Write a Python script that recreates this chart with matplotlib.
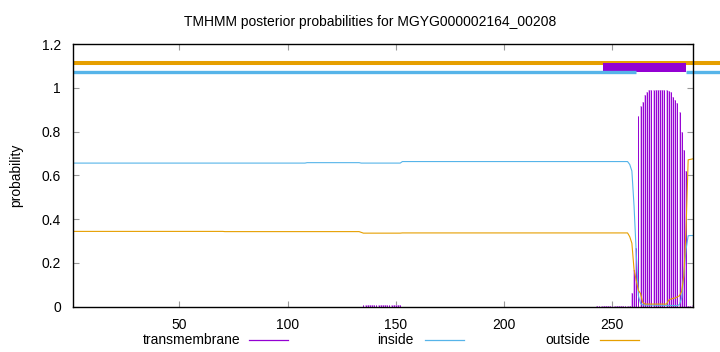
import matplotlib
matplotlib.use("Agg")
import matplotlib.pyplot as plt
from matplotlib.lines import Line2D

plt.rcParams['font.family'] = ['Liberation Sans', 'DejaVu Sans']

seq_len = 287
title = "TMHMM posterior probabilities for MGYG000002164_00208"

# transmembrane posterior (impulses), residue -> probability
tm_pos = [135, 136, 137, 138, 139, 140, 141, 142, 143, 144, 145, 146, 147, 148, 149, 150, 151, 152,
          243, 244, 245, 246, 247, 248, 249, 250, 251, 252, 253, 254, 255, 256, 257, 258,
          259, 260, 261, 262, 263, 264, 265, 266, 267, 268, 269, 270, 271, 272, 273, 274, 275,
          276, 277, 278, 279, 280, 281, 282, 283, 284, 285, 286, 287]
tm_val = [0.007, 0.007, 0.007, 0.007, 0.007, 0.007, 0.007, 0.007, 0.007, 0.007, 0.007, 0.007, 0.007,
          0.007, 0.007, 0.007, 0.007, 0.007,
          0.002, 0.002, 0.002, 0.002, 0.002, 0.002, 0.002, 0.002, 0.002, 0.002, 0.002, 0.002, 0.002,
          0.003, 0.004, 0.005,
          0.063, 0.169, 0.268, 0.87, 0.915, 0.937, 0.968, 0.983, 0.99, 0.99, 0.99, 0.99, 0.99, 0.99,
          0.99, 0.99, 0.99,
          0.985, 0.98, 0.96, 0.945, 0.93, 0.89, 0.80, 0.717, 0.62, 0.005, 0.003, 0.006]

# inside posterior
inside_pos = [1, 108, 109, 133, 134, 152, 153, 257, 258, 259, 260, 261, 262, 263, 264,
              280, 281, 282, 283, 284, 285, 286, 287]
inside_val = [0.656, 0.656, 0.658, 0.658, 0.656, 0.656, 0.663, 0.663, 0.65, 0.62, 0.46, 0.25,
              0.05, 0.015, 0.008, 0.005, 0.01, 0.04, 0.15, 0.26, 0.324, 0.325, 0.325]

# outside posterior
outside_pos = [1, 70, 71, 133, 135, 152, 153, 257, 258, 259, 260, 261, 262, 263, 264, 265,
               275, 276, 277, 278, 279, 280, 281, 282, 283, 284, 285, 286, 287]
outside_val = [0.344, 0.344, 0.343, 0.343, 0.336, 0.336, 0.337, 0.337, 0.32, 0.29, 0.17, 0.12,
               0.075, 0.06, 0.02, 0.012, 0.012, 0.03, 0.035, 0.038, 0.04, 0.045, 0.05, 0.07,
               0.14, 0.35, 0.671, 0.673, 0.675]

# predicted topology bars drawn above the curves
outside_bar = [(1, 300)]
inside_bar = [(1, 261), (284, 300)]
tm_bar = [(245.5, 284)]

c_tm = '#9400D3'
c_in = '#56B4E9'
c_out = '#E69F00'

fig = plt.figure(figsize=(7.2, 3.52), dpi=100)
ax = fig.add_axes([73.3 / 720, 1 - 306.7 / 352, (692.5 - 73.3) / 720, (306.7 - 44) / 352])

# impulses
ax.bar(tm_pos, tm_val, width=0.8, color='#e2b4f4', linewidth=0, zorder=2)
ax.vlines(tm_pos, 0, tm_val, color=c_tm, linewidth=0.7, zorder=3)

ax.plot(inside_pos, inside_val, color=c_in, linewidth=0.8, zorder=4)
ax.plot(outside_pos, outside_val, color=c_out, linewidth=0.8, zorder=4)

for a, b in outside_bar:
    ax.plot([a, b], [1.111, 1.111], color=c_out, linewidth=2.9, solid_capstyle='butt',
            clip_on=False, zorder=5)
for a, b in tm_bar:
    ax.fill_between([a, b], 1.072, 1.114, color=c_tm, linewidth=0, zorder=6)
for a, b in inside_bar:
    ax.plot([a, b], [1.071, 1.071], color=c_in, linewidth=2.4, solid_capstyle='butt',
            clip_on=False, zorder=7)

ax.set_xlim(1, seq_len)
ax.set_ylim(0, 1.2)
ax.set_xticks([50, 100, 150, 200, 250])
yt = [0, 0.2, 0.4, 0.6, 0.8, 1.0, 1.2]
ax.set_yticks(yt)
ax.set_yticklabels(['%g' % v for v in yt])
ax.tick_params(direction='in', length=4, width=0.8, color='#999999', top=True, right=True,
               labelsize=10, labelcolor='black')
ax.tick_params(axis='x', pad=8)
ax.tick_params(axis='y', pad=9)
for s in ax.spines.values():
    s.set_linewidth(1.0)
    s.set_color('black')
    s.set_zorder(8)

fig.text(370 / 720, 1 - 22 / 352, title, ha='center', va='center', fontsize=10)
fig.text(16 / 720, 0.5 * (1 - 44 / 352 + 1 - 306.7 / 352), 'probability', rotation=90,
         ha='center', va='center', fontsize=10)

# legend below the axes, gnuplot style (label then sample)
legend_items = [('transmembrane', c_tm, 240, 249), ('inside', c_in, 414, 425), ('outside', c_out, 590, 600)]
ly = 1 - 340 / 352
for label, col, tx, lx in legend_items:
    fig.text(tx / 720, ly, label, ha='right', va='center', fontsize=10)
    fig.add_artist(Line2D([lx / 720, (lx + 39) / 720], [ly, ly], color=col, linewidth=0.9))

fig.savefig('out.png', dpi=100)
